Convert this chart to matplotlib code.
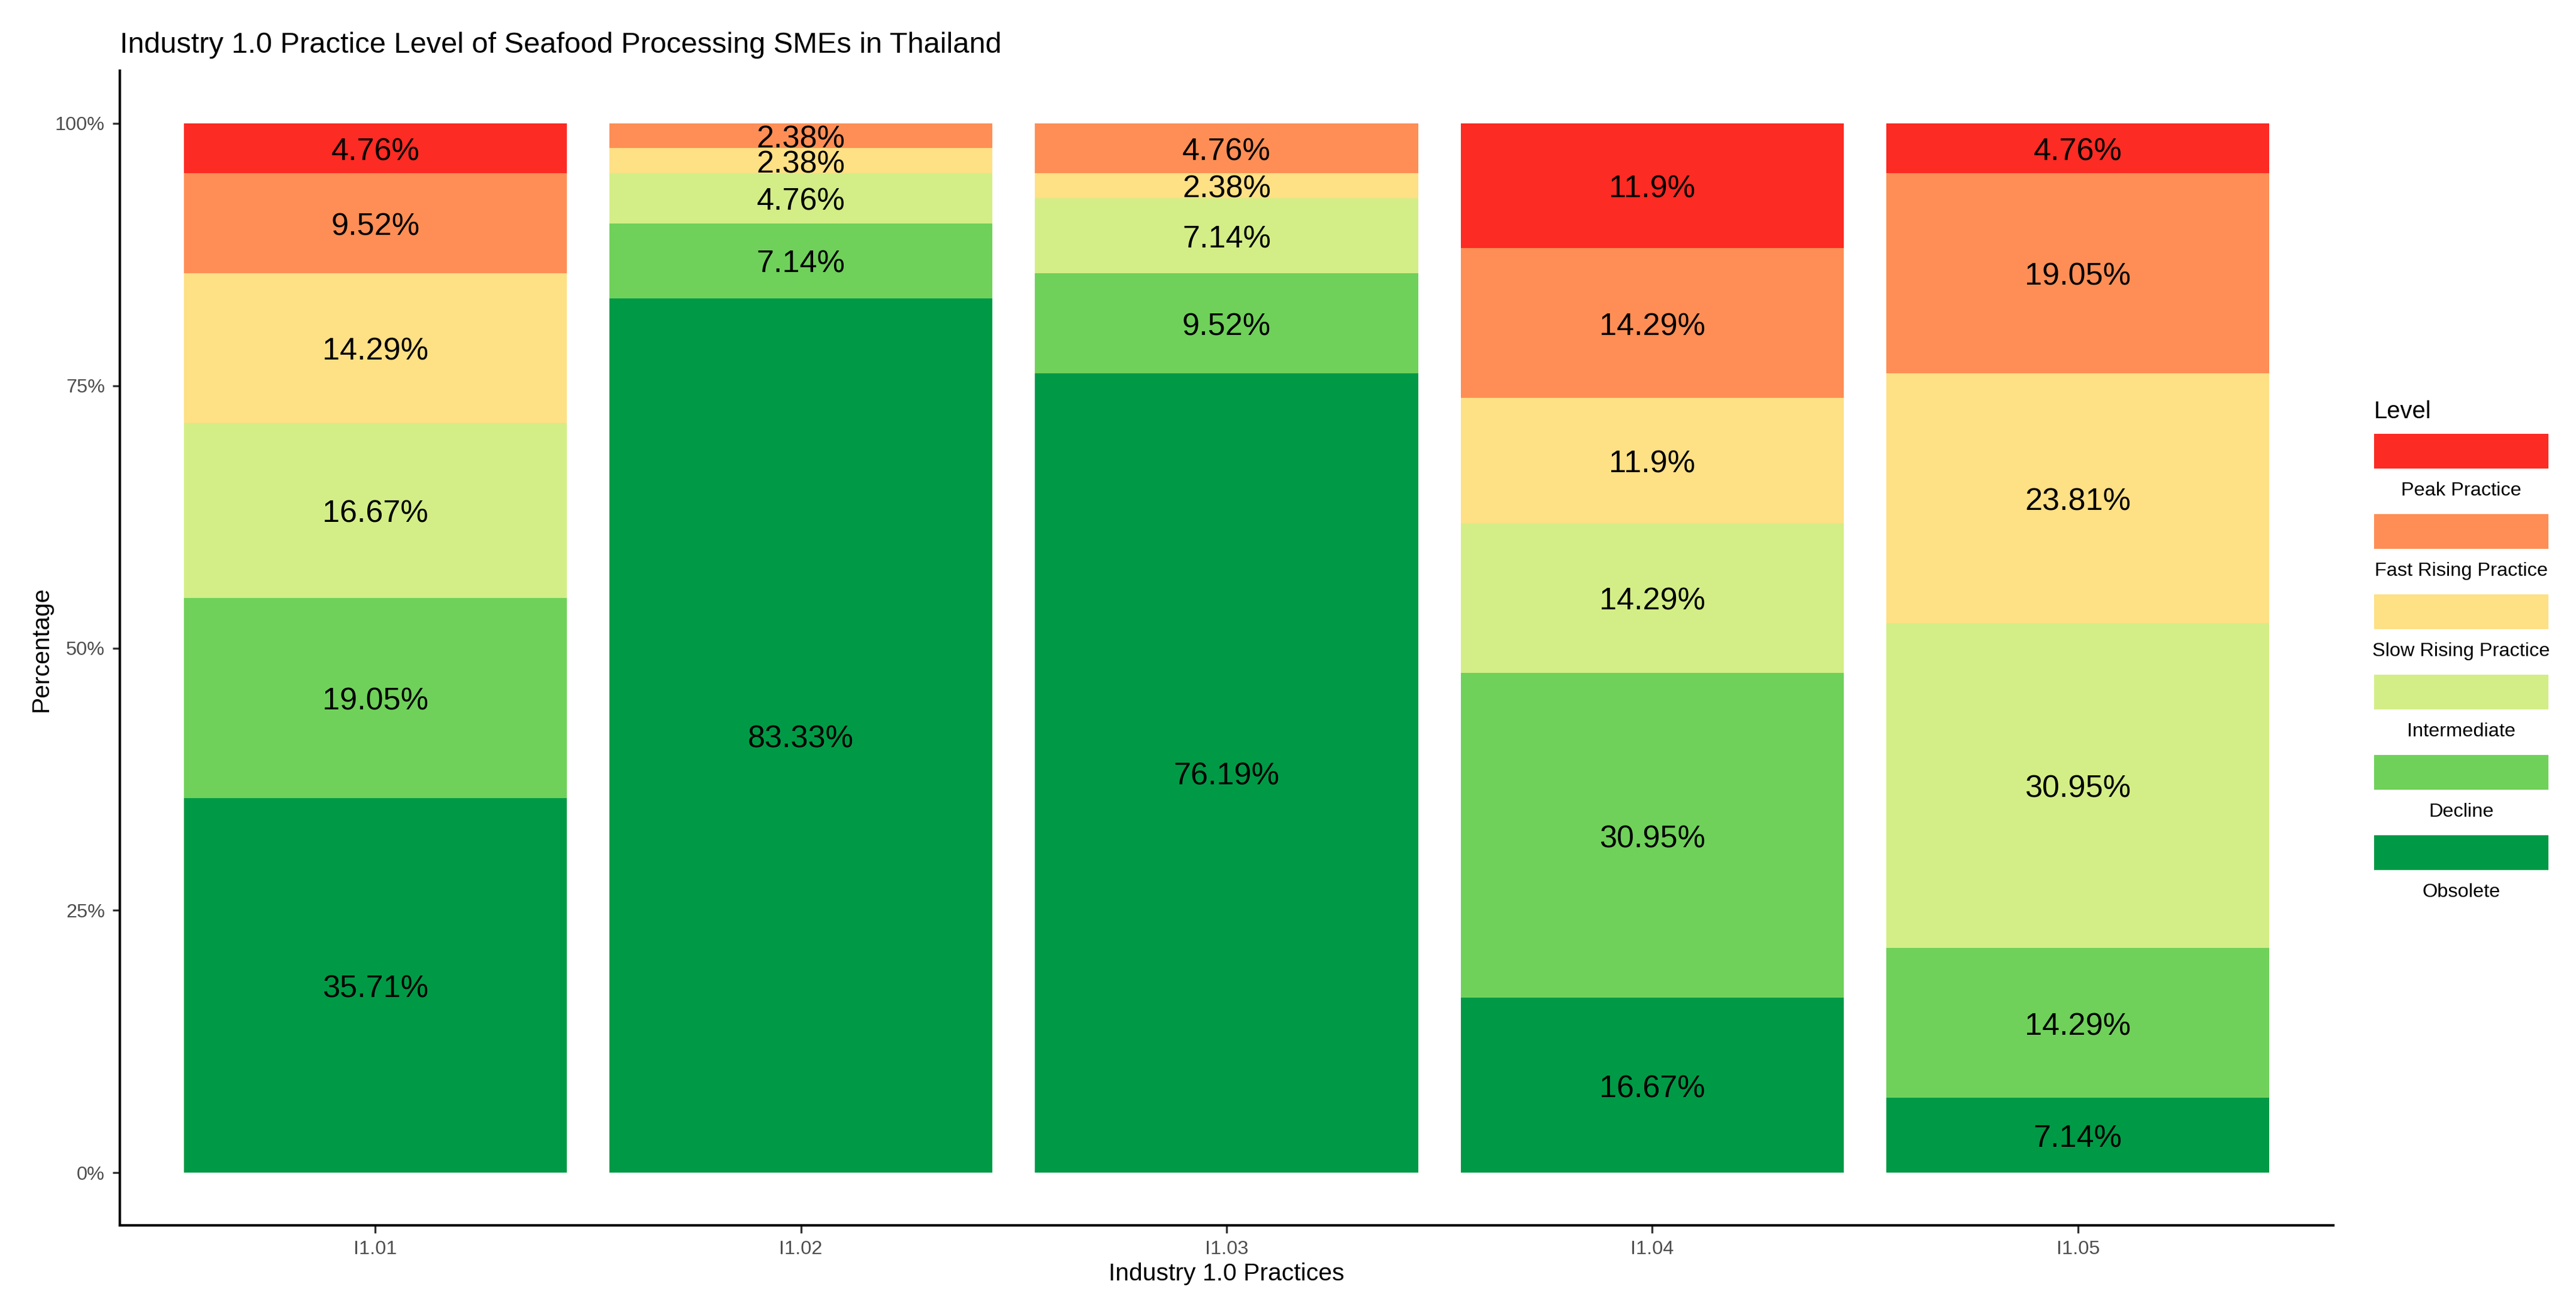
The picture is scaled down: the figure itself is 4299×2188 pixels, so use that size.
import numpy as np
import matplotlib
matplotlib.use("Agg")
import matplotlib.pyplot as plt
from matplotlib.patches import Rectangle
from matplotlib.transforms import offset_copy

plt.rcParams['font.family'] = ['Liberation Sans', 'DejaVu Sans']

# data (percent of respondents per practice)
practices = ["I1.01", "I1.02", "I1.03", "I1.04", "I1.05"]
levels = ["Obsolete", "Decline", "Intermediate", "Slow Rising Practice",
          "Fast Rising Practice", "Peak Practice"]
obsolete = [35.71, 83.33, 76.19, 16.67, 7.14]
decline = [19.05, 7.14, 9.52, 30.95, 14.29]
intermediate = [16.67, 4.76, 7.14, 14.29, 30.95]
slow_rising = [14.29, 2.38, 2.38, 11.9, 23.81]
fast_rising = [9.52, 2.38, 4.76, 14.29, 19.05]
peak = [4.76, 0, 0, 11.9, 4.76]

colors = ["#009A46", "#6FD15A", "#D3EE86", "#FEE085", "#FE8E55", "#FC2B23"]

W, H, DPI = 4299, 2188, 300
fig = plt.figure(figsize=(W / DPI, H / DPI), dpi=DPI)
ax = fig.add_axes([200 / W, 1 - 2045 / H, (3894 - 200) / W, (2045 - 118) / H])

# labels: put the digits' visual centre on the segment centre
label_size = 12.5
label_tr = offset_copy(ax.transData, fig=fig, x=0, y=-label_size * 0.716 / 2 - 0.3, units='points')

series = [obsolete, decline, intermediate, slow_rising, fast_rising, peak]
x = np.arange(len(practices))
bottom = np.zeros(len(practices))
for vals, col in zip(series, colors):
    frac = np.array(vals) / 100.0
    ax.bar(x, frac, width=0.9, bottom=bottom, color=col, linewidth=0)
    for xi, b, f, v in zip(x, bottom, frac, vals):
        if v > 0:
            ax.text(xi, b + f / 2, f"{v:g}%", ha='center', va='baseline',
                    fontsize=label_size, color='black', transform=label_tr)
    bottom += frac

ax.set_xlim(-0.6, len(practices) - 0.4)
ax.set_ylim(-0.05, 1.05)
ax.set_xticks(x)
ax.set_xticklabels(practices)
ax.set_yticks([0, 0.25, 0.5, 0.75, 1.0])
ax.set_yticklabels(["0%", "25%", "50%", "75%", "100%"])
ax.tick_params(axis='both', labelsize=7.8, labelcolor='#4D4D4D', color='#333333',
               length=3, width=0.8, pad=3)
for s in ['top', 'right']:
    ax.spines[s].set_visible(False)
for s in ['left', 'bottom']:
    ax.spines[s].set_linewidth(1.0)
    ax.spines[s].set_color('black')

fig.text(200 / W, 1 - 88 / H, "Industry 1.0 Practice Level of Seafood Processing SMEs in Thailand",
         ha='left', va='baseline', fontsize=11.7)
fig.text((200 + 3894) / 2 / W, 1 - 2137 / H, "Industry 1.0 Practices",
         ha='center', va='baseline', fontsize=9.8)
fig.text(69 / W, 1 - 1083 / H, "Percentage", rotation=90,
         ha='center', va='center', fontsize=9.8)

# legend, ggplot style: wide keys with labels underneath
fig.text(3962 / W, 1 - 698 / H, "Level", ha='left', va='baseline', fontsize=9.6)
for i, (lab, col) in enumerate(zip(levels[::-1], colors[::-1])):
    top = 724 + 134 * i
    fig.add_artist(Rectangle((3962 / W, 1 - (top + 58) / H), (4253 - 3962) / W, 58 / H,
                             transform=fig.transFigure, facecolor=col, edgecolor='none'))
    fig.text((3962 + 4253) / 2 / W, 1 - (top + 103) / H, lab,
             ha='center', va='baseline', fontsize=7.8)

fig.savefig("out.png", dpi=DPI)
